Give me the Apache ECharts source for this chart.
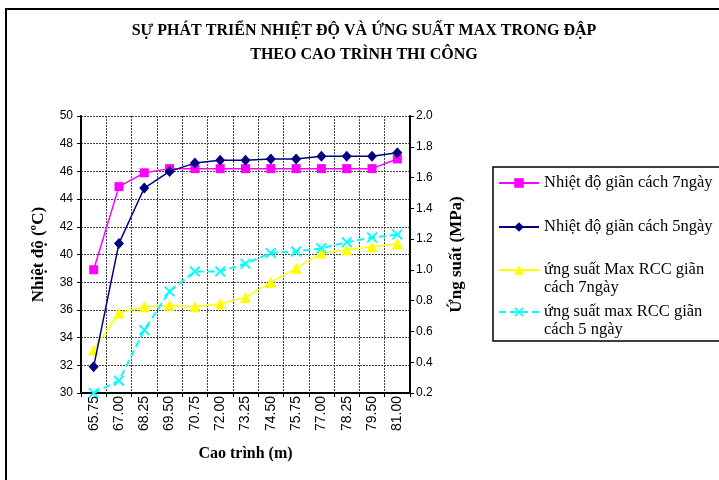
<!DOCTYPE html>
<html>
<head>
<meta charset="utf-8">
<script src="https://cdn.jsdelivr.net/npm/echarts@6/dist/echarts.min.js"></script>
<style>
html,body{margin:0;padding:0;background:#fff;}
#c{width:719px;height:480px;}
</style>
</head>
<body>
<div id="c"></div>
<script>
const categories = ['65.75','67.00','68.25','69.50','70.75','72.00','73.25','74.50','75.75','77.00','78.25','79.50','81.00'];
const temp7 = [38.9, 44.9, 45.9, 46.2, 46.2, 46.2, 46.2, 46.2, 46.2, 46.2, 46.2, 46.2, 46.9];
const temp5 = [31.9, 40.8, 44.8, 46.0, 46.6, 46.8, 46.8, 46.9, 46.9, 47.1, 47.1, 47.1, 47.35];
const stress7 = [0.48, 0.72, 0.76, 0.77, 0.76, 0.78, 0.82, 0.92, 1.01, 1.11, 1.13, 1.15, 1.17];
const stress5 = [0.20, 0.28, 0.61, 0.86, 0.99, 0.99, 1.04, 1.11, 1.12, 1.14, 1.18, 1.21, 1.23];
const seriesNames = ['Nhiệt độ giãn cách 7ngày', 'Nhiệt độ giãn cách 5ngày', 'ứng suất Max RCC giãn\ncách 7ngày', 'ứng suất max RCC giãn\ncách 5 ngày'];

const serif = '"Liberation Serif", "Times New Roman", serif';
const sans = '"Liberation Sans", Arial, sans-serif';
const xPath = 'path://M0,1.2L1.2,0L5,3.8L8.8,0L10,1.2L6.2,5L10,8.8L8.8,10L5,6.2L1.2,10L0,8.8L3.8,5Z';

const chart = echarts.init(document.getElementById('c'));
const gridLine = {show: true, lineStyle: {color: '#444', width: 1, type: [2, 1]}};

function legendAt(name, top, multi) {
  const l = {
    data: [name], left: 498, top: top, orient: 'vertical', padding: 0,
    itemWidth: 40, itemHeight: 12, selectedMode: false,
    textStyle: {fontFamily: serif, fontSize: 16.5, color: '#000', lineHeight: 18}
  };
  if (multi) l.formatter = n => '\n' + n;
  return l;
}

chart.setOption({
  animation: false,
  backgroundColor: '#fff',
  title: {
    text: 'SỰ PHÁT TRIỂN NHIỆT ĐỘ VÀ ỨNG SUẤT MAX TRONG ĐẬP\nTHEO CAO TRÌNH THI CÔNG',
    left: 364, top: 19, padding: 0, textAlign: 'center',
    textStyle: {fontFamily: serif, fontSize: 16, fontWeight: 'bold', color: '#000', lineHeight: 24}
  },
  graphic: [
    {type: 'rect', shape: {x: 6, y: 9, width: 800, height: 600}, style: {fill: 'none', stroke: '#000', lineWidth: 2}, silent: true},
    {type: 'rect', shape: {x: 493, y: 167, width: 260, height: 174}, style: {fill: 'none', stroke: '#000', lineWidth: 1.5}, silent: true}
  ],
  legend: [
    legendAt(seriesNames[0], 174, false),
    legendAt(seriesNames[1], 218, false),
    legendAt(seriesNames[2], 243, true),
    legendAt(seriesNames[3], 285, true)
  ],
  grid: {left: 81, right: 309, top: 116, bottom: 87, containLabel: false},
  xAxis: {
    type: 'category', data: categories, boundaryGap: true,
    name: 'Cao trình (m)', nameLocation: 'middle', nameGap: 53,
    nameTextStyle: {fontFamily: serif, fontSize: 16, fontWeight: 'bold', color: '#000'},
    axisLine: {lineStyle: {color: '#000', width: 2}},
    axisTick: {show: true, length: 4, interval: 0, lineStyle: {color: '#000'}},
    axisLabel: {rotate: 90, interval: 0, margin: 3, fontFamily: sans, fontSize: 14, color: '#000'},
    splitLine: Object.assign({interval: 0}, gridLine)
  },
  yAxis: [
    {
      type: 'value', min: 30, max: 50, interval: 2, position: 'left',
      name: 'Nhiệt độ (ºC)', nameLocation: 'middle', nameGap: 34,
      nameTextStyle: {fontFamily: serif, fontSize: 17, fontWeight: 'bold', color: '#000'},
      axisLine: {show: true, lineStyle: {color: '#000', width: 2}},
      axisTick: {show: true, length: 4, lineStyle: {color: '#000'}},
      axisLabel: {margin: 8, fontFamily: sans, fontSize: 12, color: '#000'},
      splitLine: gridLine
    },
    {
      type: 'value', min: 0.2, max: 2.0, interval: 0.2, position: 'right',
      name: 'Ứng suất (MPa)', nameLocation: 'middle', nameGap: 38,
      nameTextStyle: {fontFamily: serif, fontSize: 17, fontWeight: 'bold', color: '#000'},
      axisLine: {show: true, lineStyle: {color: '#000', width: 2}},
      axisTick: {show: true, length: 4, lineStyle: {color: '#000'}},
      axisLabel: {margin: 6, fontFamily: sans, fontSize: 12, color: '#000', formatter: v => v.toFixed(1)},
      splitLine: {show: false}
    }
  ],
  series: [
    {name: seriesNames[0], type: 'line', yAxisIndex: 0, data: temp7, symbol: 'rect', symbolSize: 9,
      lineStyle: {color: '#FF00FF', width: 1.5}, itemStyle: {color: '#FF00FF'}, z: 3},
    {name: seriesNames[1], type: 'line', yAxisIndex: 0, data: temp5, symbol: 'diamond', symbolSize: [10, 11],
      lineStyle: {color: '#000080', width: 1.5}, itemStyle: {color: '#000080'}, z: 4},
    {name: seriesNames[2], type: 'line', yAxisIndex: 1, data: stress7, symbol: 'triangle', symbolSize: 11,
      lineStyle: {color: '#FFFF00', width: 1.5}, itemStyle: {color: '#FFFF00'}, z: 2},
    {name: seriesNames[3], type: 'line', yAxisIndex: 1, data: stress5, symbol: xPath, symbolSize: 11,
      lineStyle: {color: '#00FFFF', width: 2, type: [7, 4]}, itemStyle: {color: '#00FFFF'}, z: 2}
  ]
});
</script>
</body>
</html>
